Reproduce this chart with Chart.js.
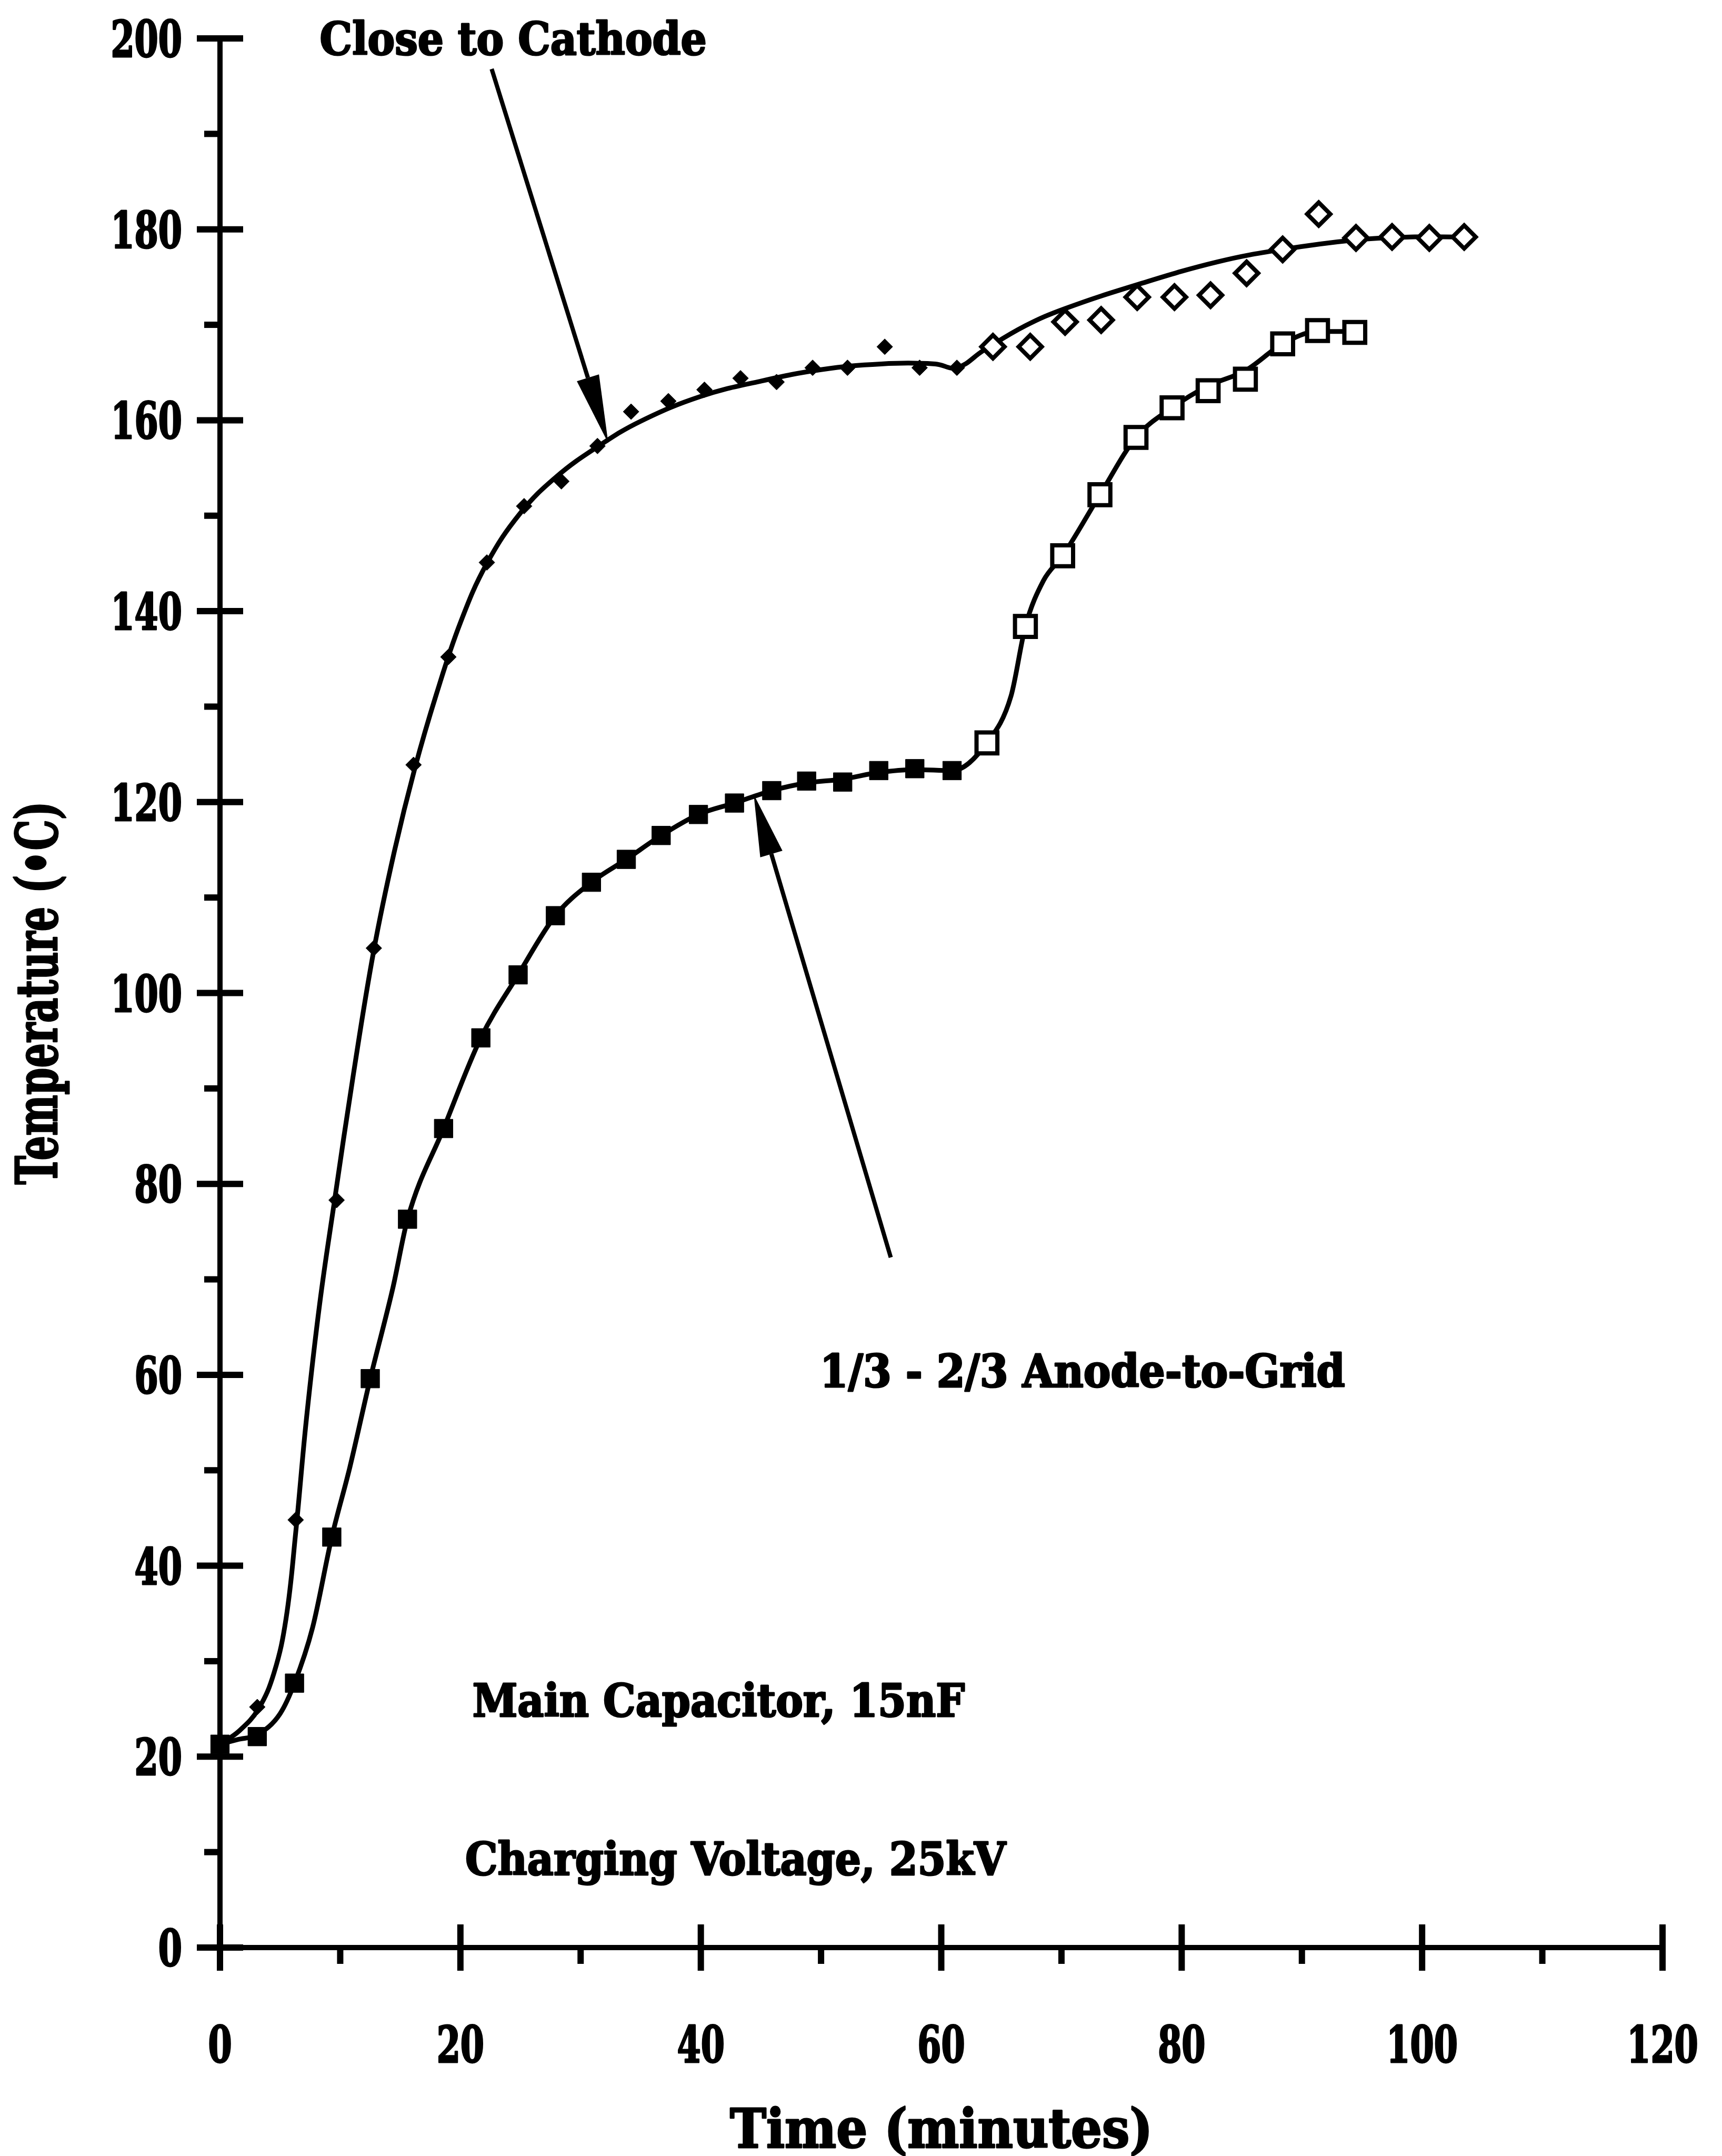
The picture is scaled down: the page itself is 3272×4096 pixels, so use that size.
<!DOCTYPE html>
<html>
<head>
<meta charset="utf-8">
<script src="https://cdn.jsdelivr.net/npm/chart.js@4.4.1/dist/chart.umd.min.js"></script>
<style>
  html, body { margin: 0; padding: 0; background: #fff; }
  #wrap { width: 3272px; height: 4096px; }
</style>
</head>
<body>
<div id="wrap"><canvas id="tempChart" width="3272" height="4096"></canvas></div>
<script>
// [time (min), temperature (C)]
var cathodeEarly = [[0,21.5],[3.1,25.2],[6.3,44.8],[9.7,78.3],[12.8,104.7],[16.1,123.9],[19.0,135.2],
  [22.2,145.1],[25.3,151.0],[28.4,153.6],[31.4,157.3],[34.2,160.9],[37.3,162.0],[40.3,163.2],
  [43.3,164.4],[46.3,164.0],[49.3,165.5],[52.2,165.5],[55.3,167.7],[58.2,165.5],[61.3,165.5]];
var cathodeLate = [[64.3,167.7],[67.4,167.7],[70.3,170.3],[73.3,170.5],[76.3,172.9],[79.4,172.9],
  [82.4,173.1],[85.4,175.4],[88.4,177.9],[91.4,181.6],[94.5,179.1],[97.5,179.2],[100.6,179.1],[103.5,179.2]];
var gridEarly = [[0,21.3],[3.1,22.1],[6.2,27.7],[9.3,43.0],[12.5,59.6],[15.6,76.3],[18.6,85.8],
  [21.7,95.3],[24.8,101.9],[27.9,108.1],[30.9,111.6],[33.8,114.0],[36.7,116.5],[39.8,118.7],
  [42.8,119.9],[45.9,121.2],[48.8,122.2],[51.8,122.1],[54.8,123.3],[57.8,123.5],[60.9,123.3]];
var gridLate = [[63.8,126.2],[67.0,138.4],[70.1,145.8],[73.2,152.2],[76.2,158.2],[79.2,161.3],
  [82.2,163.1],[85.3,164.3],[88.4,168.0],[91.3,169.4],[94.4,169.2]];

// smoothed curves through each set
var cathodeFit = [[0,21.3],[1.6,22.7],[3.2,25.0],[4.5,28.8],[5.5,34.5],[6.3,43.5],[7.2,55.5],
  [8.3,67.5],[9.5,78.0],[11.1,91.5],[12.8,104.5],[14.5,114.8],[16.2,123.5],[18.0,131.3],[20.0,138.8],
  [22.2,145.0],[25.0,150.3],[28.0,154.1],[31.5,157.3],[35.0,159.9],[40.0,162.5],[45.0,164.1],
  [50.0,165.3],[55.0,165.9],[59.5,165.9],[61.3,165.5],[63.5,167.3],[67.0,169.9],[70.3,171.7],
  [76.3,174.2],[83.0,176.6],[88.4,177.9],[94.5,178.9],[99.0,179.2],[103.5,179.2]];
var gridFit = [[0,21.3],[1.5,21.8],[3.1,22.3],[5.0,24.5],[6.2,27.7],[7.7,33.5],[9.3,43.0],[10.8,50.3],
  [12.5,59.6],[14.4,69.2],[15.6,76.3],[18.6,85.8],[21.7,95.3],[24.8,101.9],[27.9,108.1],[30.9,111.6],
  [33.8,114.0],[36.7,116.5],[39.8,118.7],[42.8,119.9],[45.9,121.2],[48.8,122.0],[51.8,122.4],
  [54.8,123.1],[57.8,123.4],[60.9,123.3],[63.8,126.2],[65.8,131.1],[67.0,138.4],[68.5,143.2],
  [70.1,145.8],[73.2,152.2],[76.2,158.2],[79.2,161.3],[82.2,163.6],[85.3,165.2],[88.4,168.0],
  [91.3,169.3],[94.4,169.3]];

var xTicks = [0, 20, 40, 60, 80, 100, 120];
var yTicks = [0, 20, 40, 60, 80, 100, 120, 140, 160, 180, 200];

var SERIF = "'DejaVu Serif Condensed', 'DejaVu Serif', serif";

// callouts, in axis units
var arrows = [
  { from: [22.6, 196.8], to: [32.3, 157.6], head: 130 },
  { from: [55.8, 72.3], to: [44.4, 120.8], head: 118 }
];
var notes = [
  { text: 'Close to Cathode', x: 8.3, y: 198.3 },
  { text: '1/3 - 2/3 Anode-to-Grid', x: 49.9, y: 58.75 },
  { text: 'Main Capacitor, 15nF', x: 21.0, y: 24.2 },
  { text: 'Charging Voltage, 25kV', x: 20.4, y: 7.6 }
];

function toXY(p) { return { x: p[0], y: p[1] }; }

// heavy type, optionally squeezed along the line of text
function heavyText(ctx, text, x, y, opts) {
  ctx.save();
  ctx.translate(x, y);
  if (opts.rotate) ctx.rotate(opts.rotate);
  ctx.scale(opts.squeeze || 1, 1);
  ctx.font = 'bold ' + opts.size + 'px ' + (opts.family || SERIF);
  ctx.textAlign = opts.align || 'left';
  ctx.textBaseline = opts.baseline || 'alphabetic';
  ctx.lineWidth = opts.stroke || 3;
  ctx.lineJoin = 'round';
  ctx.strokeText(text, 0, 0);
  ctx.fillText(text, 0, 0);
  ctx.restore();
}

// major ticks cross the axis, minor ticks sit outside only
var axisMarks = {
  id: 'axisMarks',
  afterDatasetsDraw: function (chart) {
    var ctx = chart.ctx, xs = chart.scales.x, ys = chart.scales.y;
    var left = chart.chartArea.left, bottom = chart.chartArea.bottom;
    function seg(x1, y1, x2, y2) { ctx.beginPath(); ctx.moveTo(x1, y1); ctx.lineTo(x2, y2); ctx.stroke(); }
    ctx.save();
    ctx.strokeStyle = '#000';
    ctx.fillStyle = '#000';
    ctx.lineWidth = 12;
    yTicks.forEach(function (v, i) {
      var py = ys.getPixelForValue(v);
      seg(left - 44, py, left + 44, py);
      if (i < yTicks.length - 1) {
        var pm = ys.getPixelForValue((v + yTicks[i + 1]) / 2);
        seg(left - 30, pm, left, pm);
      }
    });
    xTicks.forEach(function (v, i) {
      var px = xs.getPixelForValue(v);
      seg(px, bottom - 44, px, bottom + 44);
      if (i < xTicks.length - 1) {
        var pm = xs.getPixelForValue((v + xTicks[i + 1]) / 2);
        seg(pm, bottom, pm, bottom + 31);
      }
    });
    // tick labels: tall narrow figures
    ys.ticks.forEach(function (t) {
      heavyText(ctx, t.label, left - 72, ys.getPixelForValue(t.value) + 35,
        { size: 95, squeeze: 0.76, align: 'right' });
    });
    xs.ticks.forEach(function (t) {
      heavyText(ctx, t.label, xs.getPixelForValue(t.value), bottom + 218,
        { size: 95, squeeze: 0.76, align: 'center' });
    });
    ctx.restore();
  }
};

var callouts = {
  id: 'callouts',
  afterDraw: function (chart) {
    var ctx = chart.ctx, xs = chart.scales.x, ys = chart.scales.y, area = chart.chartArea;
    ctx.save();
    ctx.fillStyle = '#000';
    ctx.strokeStyle = '#000';
    arrows.forEach(function (a) {
      var x0 = xs.getPixelForValue(a.from[0]), y0 = ys.getPixelForValue(a.from[1]);
      var x1 = xs.getPixelForValue(a.to[0]), y1 = ys.getPixelForValue(a.to[1]);
      var len = Math.hypot(x1 - x0, y1 - y0), ux = (x1 - x0) / len, uy = (y1 - y0) / len;
      var bx = x1 - ux * a.head, by = y1 - uy * a.head;
      ctx.lineWidth = 8;
      ctx.beginPath(); ctx.moveTo(x0, y0); ctx.lineTo(bx, by); ctx.stroke();
      ctx.beginPath();
      ctx.moveTo(x1, y1);
      ctx.lineTo(bx - uy * 22, by + ux * 22);
      ctx.lineTo(bx + uy * 22, by - ux * 22);
      ctx.closePath();
      ctx.fill();
    });
    notes.forEach(function (n) {
      heavyText(ctx, n.text, xs.getPixelForValue(n.x), ys.getPixelForValue(n.y), { size: 86 });
    });
    // axis titles
    heavyText(ctx, 'Time (minutes)', (area.left + area.right) / 2, 4080,
      { size: 103, align: 'center' });
    heavyText(ctx, 'Temperature (\u2022C)', 80, (area.top + area.bottom) / 2,
      { size: 108, family: "'DejaVu Serif', serif", squeeze: 0.68, rotate: -Math.PI / 2,
        align: 'center', baseline: 'middle' });
    ctx.restore();
  }
};

var ctx = document.getElementById('tempChart').getContext('2d');

new Chart(ctx, {
  type: 'scatter',
  data: {
    datasets: [
      { label: 'Close to Cathode fit', data: cathodeFit.map(toXY), showLine: true,
        tension: 0.4, borderColor: '#000', borderWidth: 9,
        pointRadius: 0, clip: false, order: 2 },
      { label: '1/3 - 2/3 Anode-to-Grid fit', data: gridFit.map(toXY), showLine: true,
        cubicInterpolationMode: 'monotone', borderColor: '#000', borderWidth: 9,
        pointRadius: 0, clip: false, order: 2 },
      { label: 'Close to Cathode', data: cathodeEarly.map(toXY), pointStyle: 'rectRot',
        pointRadius: 15, pointBackgroundColor: '#000', pointBorderColor: '#000',
        pointBorderWidth: 1, clip: false, order: 1 },
      { label: 'Close to Cathode (later)', data: cathodeLate.map(toXY), pointStyle: 'rectRot',
        pointRadius: 22, pointBackgroundColor: '#fff', pointBorderColor: '#000',
        pointBorderWidth: 8, clip: false, order: 1 },
      { label: '1/3 - 2/3 Anode-to-Grid', data: gridEarly.map(toXY), pointStyle: 'rect',
        pointRadius: 25, pointBackgroundColor: '#000', pointBorderColor: '#000',
        pointBorderWidth: 1, clip: false, order: 1 },
      { label: '1/3 - 2/3 Anode-to-Grid (later)', data: gridLate.map(toXY), pointStyle: 'rect',
        pointRadius: 28, pointBackgroundColor: '#fff', pointBorderColor: '#000',
        pointBorderWidth: 8, clip: false, order: 1 }
    ]
  },
  options: {
    responsive: false,
    animation: false,
    devicePixelRatio: 1,
    layout: { padding: { top: 73, right: 113, left: 0, bottom: 0 } },
    plugins: { legend: { display: false }, tooltip: { enabled: false } },
    scales: {
      x: {
        type: 'linear', min: 0, max: 120,
        afterBuildTicks: function (s) { s.ticks = xTicks.map(function (v) { return { value: v }; }); },
        afterFit: function (s) { s.height = 396; },
        grid: { display: false },
        border: { display: true, color: '#000', width: 10 },
        ticks: { display: false, autoSkip: false }
      },
      y: {
        type: 'linear', min: 0, max: 200,
        afterBuildTicks: function (s) { s.ticks = yTicks.map(function (v) { return { value: v }; }); },
        afterFit: function (s) { s.width = 418; },
        grid: { display: false },
        border: { display: true, color: '#000', width: 10 },
        ticks: { display: false, autoSkip: false }
      }
    }
  },
  plugins: [axisMarks, callouts]
});
</script>
</body>
</html>
